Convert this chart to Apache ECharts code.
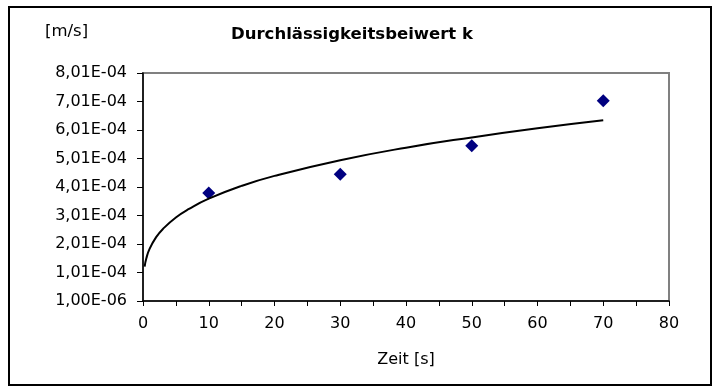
<!DOCTYPE html>
<html>
<head>
<meta charset="utf-8">
<script src="https://cdn.jsdelivr.net/npm/echarts@6/dist/echarts.min.js"></script>
<style>
html,body{margin:0;padding:0;background:#fff;}
#c{width:712px;height:390px;}
</style>
</head>
<body>
<div id="c"></div>
<script>
// Measured points
var timeValues = [10, 30, 50, 70];
var kValues = [3.80e-4, 4.46e-4, 5.46e-4, 7.04e-4];

// Trendline (power)
var trendX = [0.25, 0.5, 1, 2, 3, 5, 7, 10, 15, 20, 30, 40, 50, 60, 70];
var trendY = [1.22e-4, 1.50e-4, 1.84e-4, 2.25e-4, 2.53e-4, 2.94e-4, 3.24e-4, 3.60e-4, 4.05e-4, 4.40e-4, 4.95e-4, 5.39e-4, 5.75e-4, 6.07e-4, 6.35e-4];

// Tick labels
var yTickLabels = ['1,00E-06', '1,01E-04', '2,01E-04', '3,01E-04', '4,01E-04', '5,01E-04', '6,01E-04', '7,01E-04', '8,01E-04'];
var xTickLabels = ['0', '10', '20', '30', '40', '50', '60', '70', '80'];

var yMin = 1e-6, yMax = 8.01e-4, yStep = 1e-4;

var chart = echarts.init(document.getElementById('c'), null, {renderer: 'canvas'});
var font = 'DejaVu Sans';
chart.setOption({
  animation: false,
  backgroundColor: '#fff',
  textStyle: {fontFamily: font},
  title: {
    text: 'Durchlässigkeitsbeiwert k',
    left: 347, textAlign: 'center', top: 21,
    textStyle: {fontFamily: font, fontWeight: 'bold', fontSize: 16.5, color: '#000'}
  },
  graphic: [
    {type: 'rect', shape: {x: 9, y: 7, width: 702, height: 378}, style: {fill: null, stroke: '#000', lineWidth: 2}, silent: true, z: -1},
    {type: 'text', left: 45, top: 23, style: {text: '[m/s]', font: '16.5px "DejaVu Sans"', fill: '#000'}}
  ],
  grid: {left: 143, right: 43, top: 73, bottom: 89, show: true, borderColor: '#808080', borderWidth: 2, backgroundColor: '#fff'},
  xAxis: {
    type: 'value', min: 0, max: 80, interval: 10,
    name: 'Zeit [s]', nameLocation: 'middle', nameGap: 51,
    nameTextStyle: {fontFamily: font, fontSize: 16, color: '#000'},
    axisLine: {show: true, lineStyle: {color: '#000', width: 1.5}},
    axisTick: {show: true, inside: false, length: 5, lineStyle: {color: '#000', width: 1}},
    minorTick: {show: true, splitNumber: 2, length: 5, lineStyle: {color: '#000', width: 1}},
    axisLabel: {margin: 15, fontFamily: font, fontSize: 16, color: '#000',
      formatter: function (v) { return xTickLabels[Math.round(v / 10)]; }},
    splitLine: {show: false}, minorSplitLine: {show: false}
  },
  yAxis: {
    type: 'value', min: yMin, max: yMax, interval: yStep,
    axisLine: {show: true, onZero: false, lineStyle: {color: '#000', width: 1.5}},
    axisTick: {show: true, inside: false, length: 6, lineStyle: {color: '#000', width: 1}},
    axisLabel: {margin: 16, fontFamily: font, fontSize: 16, color: '#000',
      formatter: function (v) { return yTickLabels[Math.round((v - yMin) / yStep)] || ''; }},
    splitLine: {show: false}
  },
  series: [
    {
      type: 'scatter', symbol: 'diamond', symbolSize: 13,
      itemStyle: {color: '#000080', opacity: 1},
      data: timeValues.map(function (t, i) { return [t, kValues[i]]; }),
      z: 2
    },
    {
      type: 'line', smooth: 0.5, showSymbol: false, symbol: 'none',
      lineStyle: {color: '#000', width: 2},
      data: trendX.map(function (t, i) { return [t, trendY[i]]; }),
      z: 3
    }
  ]
});
</script>
</body>
</html>
